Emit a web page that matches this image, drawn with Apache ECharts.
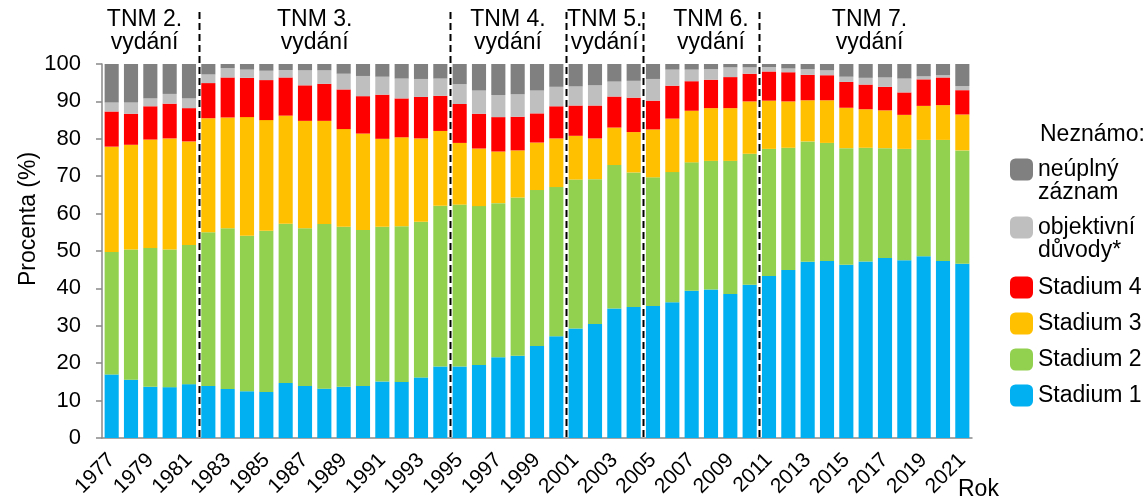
<!DOCTYPE html>
<html>
<head>
<meta charset="utf-8">
<script src="https://cdn.jsdelivr.net/npm/echarts@6/dist/echarts.min.js"></script>
<style>html,body{margin:0;padding:0;background:#fff}#main{width:1148px;height:501px}</style>
</head>
<body>
<div id="main"></div>
<script>
const years = ['1977','1978','1979','1980','1981','1982','1983','1984','1985','1986','1987','1988','1989','1990','1991','1992','1993','1994','1995','1996','1997','1998','1999','2000','2001','2002','2003','2004','2005','2006','2007','2008','2009','2010','2011','2012','2013','2014','2015','2016','2017','2018','2019','2020','2021'];

const stadium1 = [17.0,15.6,13.7,13.6,14.4,13.9,13.1,12.5,12.3,14.7,13.9,13.2,13.7,13.9,15.1,15.0,16.2,19.1,19.1,19.5,21.6,22.0,24.6,27.2,29.3,30.5,34.6,35.0,35.3,36.3,39.4,39.7,38.5,41.0,43.3,44.9,47.1,47.3,46.3,47.2,48.1,47.5,48.6,47.3,46.6];
const stadium2 = [32.7,34.8,37.1,36.8,37.2,41.1,43.0,41.6,43.1,42.6,42.2,44.0,42.8,41.7,41.4,41.6,41.6,43.0,43.3,42.5,41.2,42.3,41.7,39.9,39.8,38.7,38.4,36.0,34.4,34.8,34.3,34.4,35.6,35.0,34.0,32.7,32.2,31.6,31.2,30.4,29.4,29.8,31.1,32.4,30.3];
const stadium3 = [28.2,28.0,29.0,29.7,27.7,30.5,29.6,31.7,29.6,28.9,28.7,27.6,26.1,25.8,23.5,23.8,22.3,20.0,16.5,15.4,13.8,12.6,12.7,13.0,11.7,10.9,10.0,10.8,12.8,14.3,13.8,14.1,14.1,14.0,12.9,12.4,11.0,11.4,10.8,10.3,10.1,9.1,9.1,9.3,9.6];
const stadium4 = [9.4,8.3,8.9,9.3,8.9,9.4,10.7,10.5,10.7,10.2,9.5,9.9,10.6,10.0,11.8,10.4,11.1,9.4,10.4,9.3,9.2,9.0,7.8,8.6,8.1,8.8,8.3,9.2,7.7,8.8,7.9,7.6,8.3,7.4,7.8,7.8,6.8,6.7,6.9,6.6,6.3,6.0,7.1,7.4,6.5];
const objektivni = [2.4,3.0,2.1,2.6,2.6,2.3,2.5,2.2,2.5,2.0,4.0,3.6,4.2,5.4,4.8,5.3,4.8,4.6,5.3,6.2,5.9,6.0,6.1,5.2,5.1,5.4,4.0,4.5,5.8,4.3,3.1,2.8,2.6,1.7,1.2,1.0,1.5,1.3,1.4,1.8,2.5,3.7,0.8,0.6,1.1];
const neuplny = [10.3,10.3,9.2,8.0,9.2,2.8,1.1,1.5,1.8,1.6,1.7,1.7,2.6,3.2,3.4,3.9,4.0,3.9,5.4,7.1,8.3,8.1,7.1,6.1,6.0,5.7,4.7,4.5,4.0,1.5,1.5,1.4,0.9,0.9,0.8,1.2,1.4,1.7,3.4,3.7,3.6,3.9,3.3,3.0,5.9];

const yTicks = [0,10,20,30,40,50,60,70,80,90,100];
// edition boundaries, in category units (category i spans [i, i+1])
const editionBounds = [5, 18, 24, 28, 34];
const editionNames = ['TNM 2.\nvydání','TNM 3.\nvydání','TNM 4.\nvydání','TNM 5.\nvydání','TNM 6.\nvydání','TNM 7.\nvydání'];
const editionCenters = [2.2, 11.0, 21.0, 26.0, 31.5, 39.7];

const FONT = 'Liberation Sans, Arial, sans-serif';
const AXC = '#898989';

const chart = echarts.init(document.getElementById('main'));

function bar(name, data, color) {
  return {name, type:'bar', stack:'total', data, xAxisIndex:0, yAxisIndex:0,
    barCategoryGap:'27%', itemStyle:{color}, emphasis:{disabled:true}};
}

const option = {
  animation:false,
  textStyle:{fontFamily:FONT, color:'#000'},
  title:{text:'Neznámo:', left:1035, top:118, textStyle:{fontSize:23, fontWeight:'normal', color:'#000', fontFamily:FONT}},
  legend:[
    {data:['neúplný záznam'], left:1005, top:130, orient:'vertical', itemWidth:23, itemHeight:22, selectedMode:false,
     formatter:()=>'\nneúplný\nzáznam', textStyle:{fontSize:23, lineHeight:23, color:'#000', fontFamily:FONT}},
    {data:['objektivní důvody*'], left:1005, top:188, orient:'vertical', itemWidth:23, itemHeight:22, selectedMode:false,
     formatter:()=>'\nobjektivní\ndůvody*', textStyle:{fontSize:23, lineHeight:23, color:'#000', fontFamily:FONT}},
    {data:['Stadium 4','Stadium 3','Stadium 2','Stadium 1'], left:1005, top:271, orient:'vertical', itemWidth:23, itemHeight:22, itemGap:13, selectedMode:false,
     textStyle:{fontSize:23, lineHeight:23, color:'#000', fontFamily:FONT}}
  ],
  grid:{left:102, right:176, top:64, bottom:63},
  xAxis:[
    {type:'category', data:years, boundaryGap:true,
     axisLine:{lineStyle:{color:AXC, width:1.5}},
     axisTick:{interval:0, length:6, lineStyle:{color:AXC, width:1.5}},
     axisLabel:{interval:1, rotate:45, fontSize:21, color:'#000', margin:19, fontFamily:FONT},
     name:'Rok', nameLocation:'end', nameGap:-14, nameMoveOverlap:false,
     nameTextStyle:{fontSize:23, color:'#000', fontFamily:FONT, verticalAlign:'top', padding:[40,0,0,0]}},
    {type:'value', min:0, max:years.length, show:false}
  ],
  yAxis:{type:'value', min:0, max:100, interval:10,
    axisLine:{show:true, lineStyle:{color:AXC, width:1.5}},
    axisTick:{show:true, length:6, lineStyle:{color:AXC, width:1.5}},
    splitLine:{show:false},
    axisLabel:{fontSize:22, color:'#000', margin:21, fontFamily:FONT, formatter:v=>yTicks.includes(v)?String(v):''},
    name:'Procenta (%)', nameLocation:'middle', nameGap:62, nameRotate:90, nameMoveOverlap:false,
    nameTextStyle:{fontSize:23, color:'#000', fontFamily:FONT, padding:[0,0,0,64]}},
  series:[
    bar('Stadium 1', stadium1, '#00B0F0'),
    bar('Stadium 2', stadium2, '#92D050'),
    bar('Stadium 3', stadium3, '#FFC000'),
    bar('Stadium 4', stadium4, '#FF0000'),
    bar('objektivní důvody*', objektivni, '#BFBFBF'),
    bar('neúplný záznam', neuplny, '#808080'),
    {type:'line', xAxisIndex:1, yAxisIndex:0, data:[], silent:true}
  ]
};
chart.setOption(option);

const yTop = chart.convertToPixel({yAxisIndex:0}, 100);
const yBot = chart.convertToPixel({yAxisIndex:0}, 0);
const graphics = [];
editionBounds.forEach(b => {
  const x = Math.round(chart.convertToPixel({xAxisIndex:1}, b)) + 0.5;
  graphics.push({type:'line', z:100, silent:true,
    shape:{x1:x, y1:yTop-52, x2:x, y2:yBot},
    style:{stroke:'#000', lineWidth:2, lineDash:[7,4]}});
});
editionNames.forEach((t, i) => {
  const x = chart.convertToPixel({xAxisIndex:1}, editionCenters[i]);
  graphics.push({type:'text', z:100, silent:true, x:x, y:yTop-56,
    style:{text:t, fontSize:23, lineHeight:23, fontFamily:FONT, fill:'#000', align:'center', verticalAlign:'top'}});
});
chart.setOption({graphic:graphics});
</script>
</body>
</html>
